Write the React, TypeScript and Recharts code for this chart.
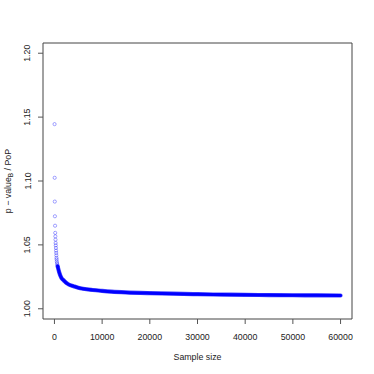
import { ComposedChart, Line, Scatter, XAxis, YAxis, ReferenceArea } from 'recharts'

// early sample sizes: drawn as separate open circles
const sparseN = [25, 50, 75, 100, 130, 160, 190, 220, 250, 280, 310, 340, 370, 400, 430, 460, 500, 550, 600, 680]
const sparseRatio = [1.1445, 1.1025, 1.0839, 1.0724, 1.065, 1.0594, 1.0567, 1.0541, 1.0515, 1.0496, 1.0476, 1.0455, 1.0437, 1.0418, 1.0398, 1.0385, 1.037, 1.0357, 1.0345, 1.0332]

// dense part of the curve
const denseN = [680, 756, 1000, 1470, 2000, 2500, 3000, 4000, 5000, 6000, 8000, 10000, 12000, 15000, 20000, 25000, 30000, 35000, 40000, 45000, 50000, 55000, 60000]
const denseRatio = [1.0332, 1.032, 1.0285, 1.0241, 1.022, 1.0202, 1.019, 1.0177, 1.0165, 1.0157, 1.0147, 1.014, 1.0134, 1.0128, 1.0122, 1.0118, 1.0114, 1.0111, 1.0109, 1.0107, 1.0106, 1.0105, 1.0104]

const xTicks = [0, 10000, 20000, 30000, 40000, 50000, 60000]
const yTicks = [1.0, 1.05, 1.1, 1.15, 1.2]

const sparse = sparseN.map((n, i) => ({ n, ratio: sparseRatio[i] }))
const dense = denseN.map((n, i) => ({ n, ratio: denseRatio[i] }))

const FONT = '"Liberation Sans", Arial, sans-serif'
const TXT = '#222'

function XTick(props: any) {
  const { x, payload } = props
  return (
    <text x={x} y={339.5} textAnchor="middle" fontSize={8.8} fontFamily={FONT} fill={TXT}>
      {payload.value}
    </text>
  )
}

function YTick(props: any) {
  const { y, payload } = props
  const cx = 27.5
  return (
    <text
      x={cx}
      y={y}
      transform={`rotate(-90, ${cx}, ${y})`}
      textAnchor="middle"
      dominantBaseline="central"
      fontSize={8.8}
      fontFamily={FONT}
      fill={TXT}
    >
      {Number(payload.value).toFixed(2)}
    </text>
  )
}

function OpenCircle(props: any) {
  const { cx, cy } = props
  return <circle cx={cx} cy={cy} r={1.6} fill="none" stroke="#0000ff" strokeOpacity={0.45} strokeWidth={0.8} />
}

export default function App() {
  return (
    <div style={{ position: 'absolute', left: 0, top: 0, width: 374, height: 374, background: '#fff' }}>
      <ComposedChart width={374} height={374} margin={{ top: 43, right: 22, left: 0, bottom: 0 }}>
        <XAxis
          type="number"
          dataKey="n"
          domain={[-2400, 62400]}
          ticks={xTicks}
          allowDataOverflow
          axisLine={false}
          tickSize={5}
          tickLine={{ stroke: '#555' }}
          tick={<XTick />}
          height={55}
          label={{
            content: () => (
              <text x={197.5} y={360} textAnchor="middle" fontSize={8.8} fontFamily={FONT} fill={TXT}>
                Sample size
              </text>
            ),
          }}
        />
        <YAxis
          type="number"
          dataKey="ratio"
          domain={[0.992, 1.208]}
          ticks={yTicks}
          allowDataOverflow
          axisLine={false}
          tickSize={5}
          tickLine={{ stroke: '#555' }}
          tick={<YTick />}
          width={43}
          label={{
            content: () => (
              <text
                x={7.5}
                y={181}
                transform="rotate(-90, 7.5, 181)"
                textAnchor="middle"
                dominantBaseline="central"
                fontSize={8.8}
                fontFamily={FONT}
                fill={TXT}
              >
                p − value
                <tspan dy={2} fontSize={6.5}>B</tspan>
                <tspan dy={-2}> / PoP</tspan>
              </text>
            ),
          }}
        />
        <ReferenceArea x1={-2400} x2={62400} y1={0.992} y2={1.208} fill="none" stroke="#444" strokeWidth={1} ifOverflow="visible" />
        <Line
          data={dense}
          dataKey="ratio"
          type="monotone"
          stroke="#4d4dff"
          strokeWidth={4.2}
          strokeLinecap="round"
          dot={false}
          isAnimationActive={false}
        />
        <Line
          data={dense}
          dataKey="ratio"
          type="monotone"
          stroke="#0000ff"
          strokeWidth={3}
          strokeLinecap="round"
          dot={false}
          isAnimationActive={false}
        />
        <Scatter data={sparse} dataKey="ratio" shape={<OpenCircle />} isAnimationActive={false} />
      </ComposedChart>
    </div>
  )
}
